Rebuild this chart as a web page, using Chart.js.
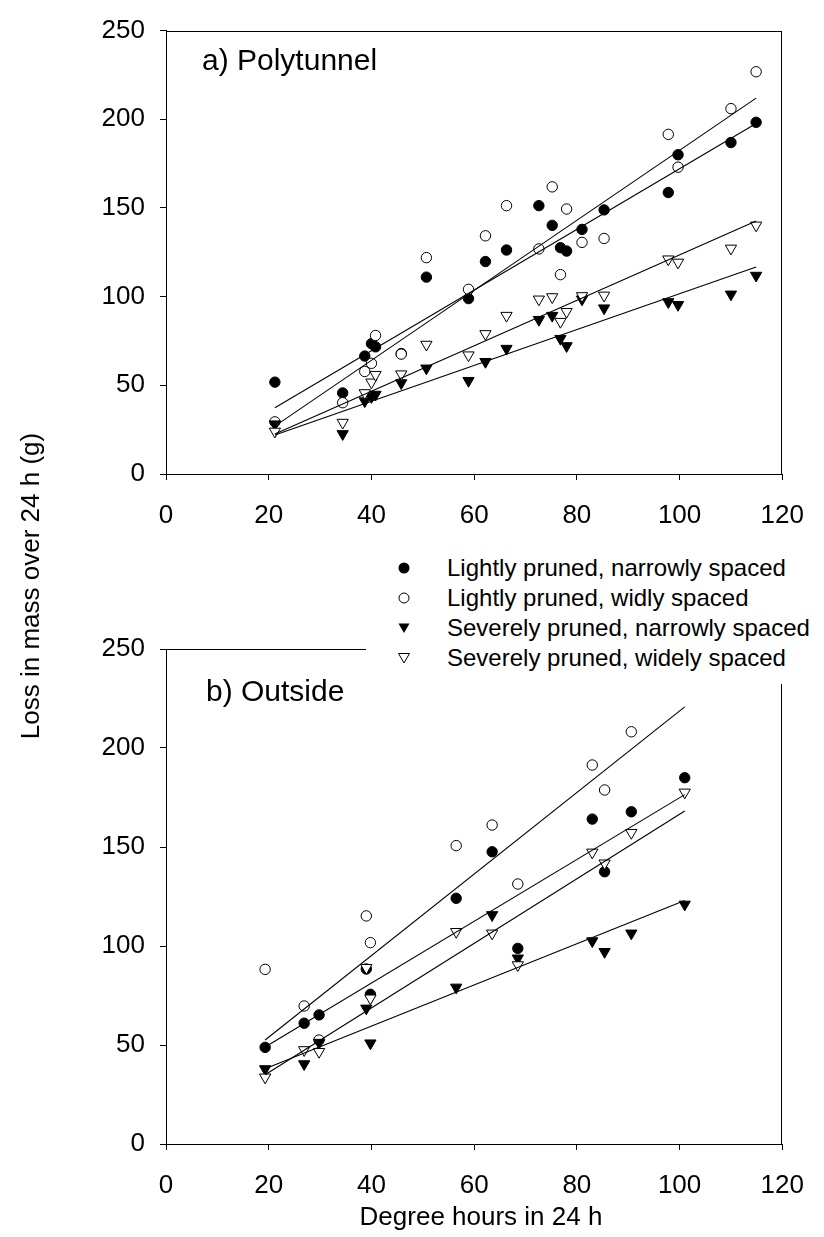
<!DOCTYPE html>
<html><head><meta charset="utf-8">
<script src="https://cdn.jsdelivr.net/npm/chart.js@4.4.1/dist/chart.umd.min.js"></script>
<style>
html,body{margin:0;padding:0;background:#fff;}
body{width:824px;height:1237px;position:relative;overflow:hidden;font-family:"Liberation Sans",Arial,sans-serif;color:#000}
canvas{position:absolute;left:0}
#c1{top:0}
#c2{top:600px}
.txt{position:absolute;white-space:nowrap;}
#legend{position:absolute;left:366px;top:530px;width:458px;height:154px;background:#fff}
.row{position:absolute;left:81px;font-size:24px;line-height:30px;height:30px;white-space:nowrap}
.mk{position:absolute;left:31px;width:14px;height:14px}
</style></head><body>
<canvas id="c1" width="824" height="540" style="width:824px;height:540px"></canvas>
<canvas id="c2" width="824" height="637" style="width:824px;height:637px"></canvas>

<div class="txt" style="left:202px;top:45px;font-size:30px;line-height:30px">a) Polytunnel</div>
<div class="txt" style="left:206px;top:676px;font-size:30px;line-height:30px">b) Outside</div>
<div class="txt" style="left:-150px;top:571px;width:360px;text-align:center;font-size:26px;line-height:30px;transform:rotate(-90deg)">Loss in mass over 24 h (g)</div>
<div class="txt" style="left:281px;top:1201px;width:400px;text-align:center;font-size:26px;line-height:30px">Degree hours in 24 h</div>

<div id="legend"></div>

<script>
// ---- data ----
const seriesNames = [
  "Lightly pruned, narrowly spaced",
  "Lightly pruned, widly spaced",
  "Severely pruned, narrowly spaced",
  "Severely pruned, widely spaced"
];
// a) Polytunnel
const polyDays = [21.2, 34.4, 38.7, 40.0, 40.8, 45.8, 50.7, 58.9, 62.2, 66.3, 72.6, 75.2, 76.8, 78.0, 81.0, 85.3, 97.8, 99.7, 110.0, 114.9];
const polyLN = [51.8, 45.7, 66.5, 73.5, 71.7, 67.9, 111.0, 98.9, 119.8, 126.3, 151.3, 140.2, 127.6, 125.7, 137.9, 148.9, 158.7, 180.0, 186.9, 198.3];
const polyLW = [29.4, 40.2, 57.8, 62.4, 78.1, 67.6, 122.0, 104.1, 134.3, 151.3, 126.9, 161.9, 112.4, 149.4, 130.6, 132.8, 191.5, 173.0, 206.0, 226.8];
const polySN = [28.1, 22.6, 41.1, 43.5, 44.8, 51.3, 59.6, 52.6, 63.3, 70.7, 87.0, 89.3, 76.3, 72.2, 98.5, 93.5, 97.0, 95.4, 101.3, 111.9];
const polySW = [24.0, 29.0, 45.7, 51.7, 56.0, 56.3, 73.0, 67.0, 79.0, 89.3, 98.5, 99.8, 85.9, 91.5, 100.4, 100.7, 121.1, 119.3, 127.2, 140.2];
// fitted lines (intercept, slope), order LN, LW, SN, SW
const polyFitIntercept = [1.15, -14.86, 0.57, -4.67];
const polyFitSlope = [1.71, 1.974, 1.011, 1.282];

// b) Outside
const outDays = [19.3, 26.9, 29.8, 39.0, 39.8, 56.5, 63.5, 68.5, 83.0, 85.4, 90.6, 101.0];
const outLN = [48.8, 61.0, 65.2, 88.4, 75.6, 124.1, 147.6, 98.8, 164.1, 137.5, 167.8, 185.0];
const outLW = [88.2, 69.7, 52.5, 115.2, 101.7, 150.7, 161.1, 131.3, 191.4, 178.8, 208.2, null];
const outSN = [37.9, 40.4, 51.2, 68.5, 50.9, 79.1, 115.7, 93.8, 102.5, 97.1, 106.4, 121.0];
const outSW = [33.7, 47.5, 46.6, 89.0, 73.6, 107.2, 106.4, 90.4, 147.3, 141.8, 157.2, 177.6];
const outFitIntercept = [18.9, 12.74, 17.93, 3.54];
const outFitSlope = [1.56, 2.06, 1.04, 1.63];

const xTicks = [0, 20, 40, 60, 80, 100, 120];
const yTicks = [0, 50, 100, 150, 200, 250];

// ---- styles ----
const FONT = '"Liberation Sans", Arial, sans-serif';
const markerStyles = [
  {pointStyle:'circle', bg:'#000', r:5.2, rot:0},
  {pointStyle:'circle', bg:'#fff', r:5.2, rot:0},
  {pointStyle:'triangle', bg:'#000', r:6.5, rot:180},
  {pointStyle:'triangle', bg:'#fff', r:6.5, rot:180}
];

const boxPlugin = {
  id:'box',
  beforeDatasetsDraw(chart){
    const a = chart.chartArea, ctx = chart.ctx;
    ctx.save();
    ctx.strokeStyle = '#000'; ctx.lineWidth = 1;
    const t = Math.round(a.top)+0.5, r = Math.round(a.right)-0.5;
    ctx.beginPath();
    ctx.moveTo(Math.round(a.left), t); ctx.lineTo(r+0.5, t);
    ctx.moveTo(r, t); ctx.lineTo(r, Math.round(a.bottom));
    ctx.stroke();
    ctx.restore();
  }
};

function makeChart(id, days, series, fitB, fitM, padTop, xH){
  const x0 = Math.min(...days), x1 = Math.max(...days);
  const datasets = [];
  for (let i = 0; i < 4; i++) {
    datasets.push({
      label: 'fit ' + seriesNames[i],
      data: [{x:x0, y:fitB[i] + fitM[i]*x0}, {x:x1, y:fitB[i] + fitM[i]*x1}],
      showLine:true, borderColor:'#000', borderWidth:1.1, pointRadius:0, fill:false, order:0
    });
  }
  // marker datasets: later series on top
  for (let i = 3; i >= 0; i--) {
    const m = markerStyles[i];
    const pts = [];
    days.forEach((d, k) => { if (series[i][k] != null) pts.push({x:d, y:series[i][k]}); });
    datasets.push({
      label: seriesNames[i], data: pts, showLine:false,
      pointStyle:m.pointStyle, pointRotation:m.rot, pointRadius:m.r,
      pointBackgroundColor:m.bg, pointBorderColor:'#000', pointBorderWidth:1, order:1
    });
  }
  const tickFont = {family:FONT, size:26};
  return new Chart(document.getElementById(id), {
    type:'scatter',
    data:{datasets},
    plugins:[boxPlugin],
    options:{
      responsive:false, animation:false, devicePixelRatio:1,
      layout:{padding:{left:0, right:28, top:padTop, bottom:0}},
      plugins:{legend:{display:false}, tooltip:{enabled:false}},
      scales:{
        x:{type:'linear', min:xTicks[0], max:xTicks[xTicks.length-1],
           afterBuildTicks:s=>{s.ticks = xTicks.map(v=>({value:v}));},
           ticks:{color:'#000', font:tickFont, padding:20, maxRotation:0, autoSkip:false},
           grid:{drawOnChartArea:false, drawTicks:true, tickLength:6, color:'#000', lineWidth:1},
           border:{color:'#000', width:1},
           afterFit:s=>{s.height = xH;}},
        y:{type:'linear', min:yTicks[0], max:yTicks[yTicks.length-1],
           afterBuildTicks:s=>{s.ticks = yTicks.map(v=>({value:v}));},
           ticks:{color:'#000', font:tickFont, padding:15},
           grid:{drawOnChartArea:false, drawTicks:true, tickLength:6, color:'#000', lineWidth:1},
           border:{color:'#000', width:1},
           afterFit:s=>{s.width = 166;}}
      }
    }
  });
}

makeChart('c1', polyDays, [polyLN, polyLW, polySN, polySW], polyFitIntercept, polyFitSlope, 24, 66);
makeChart('c2', outDays, [outLN, outLW, outSN, outSW], outFitIntercept, outFitSlope, 49, 93);

// legend
const svgs = [
  '<circle cx="7" cy="7" r="5.5" fill="#000"/>',
  '<circle cx="7" cy="7" r="5" fill="#fff" stroke="#000" stroke-width="1"/>',
  '<polygon points="1.5,2.5 12.5,2.5 7,12" fill="#000"/>',
  '<polygon points="1.5,2.5 12.5,2.5 7,12" fill="#fff" stroke="#000" stroke-width="1"/>'
];
const leg = document.getElementById('legend');
seriesNames.forEach((n, i) => {
  const c = 38 + i*30;
  const mk = document.createElementNS('http://www.w3.org/2000/svg','svg');
  mk.setAttribute('class','mk'); mk.setAttribute('width','14'); mk.setAttribute('height','14');
  mk.style.top = (c-7) + 'px';
  mk.innerHTML = svgs[i];
  leg.appendChild(mk);
  const row = document.createElement('div');
  row.className = 'row'; row.style.top = (c-15) + 'px';
  row.textContent = n;
  leg.appendChild(row);
});
</script>
</body></html>
